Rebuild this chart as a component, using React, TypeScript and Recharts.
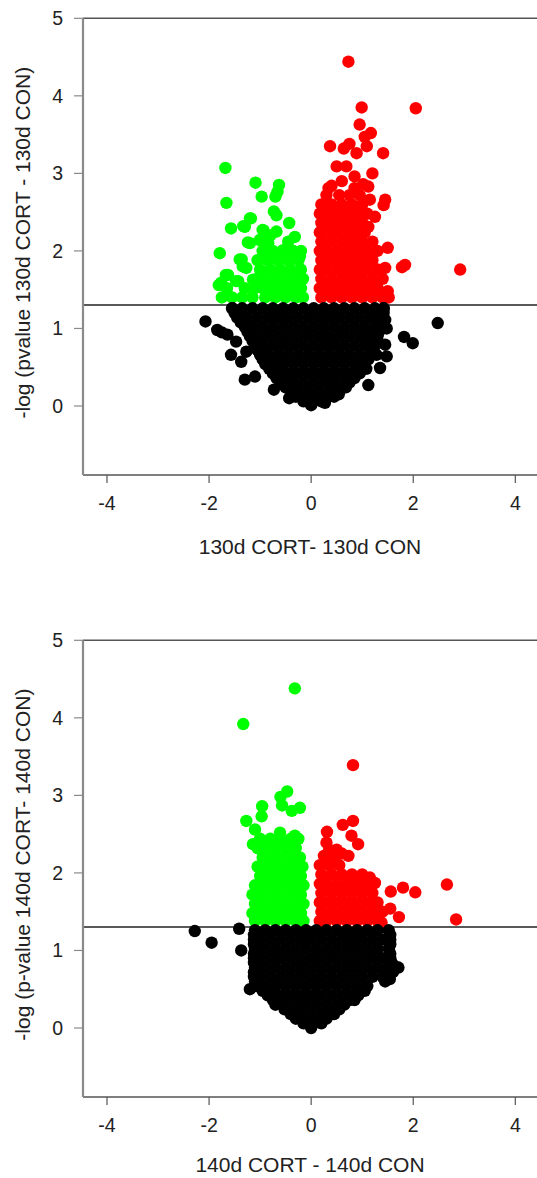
import React from "react";
import { ScatterChart, Scatter, XAxis, YAxis, ReferenceLine, Label } from "recharts";

// x tick labels and y tick labels
const xTicks = [-4, -2, 0, 2, 4];
const yTicks = [0, 1, 2, 3, 4, 5];
const threshold = 1.301; // -log10(0.05)

// ---------- Panel 1: 130d ----------
const red130: [number, number][] = [
  [0.73, 4.44], [0.99, 3.85], [2.05, 3.84], [0.95, 3.63], [1.17, 3.52], [1.05, 3.47],
  [0.37, 3.35], [0.75, 3.38], [0.64, 3.32], [0.89, 3.26], [1.09, 3.35], [1.41, 3.26],
  [0.5, 3.09], [0.69, 3.09], [1.2, 3.0], [0.34, 2.81], [0.85, 2.81], [1.12, 2.83],
  [1.45, 2.66], [1.42, 2.59], [0.27, 2.59], [1.15, 2.66], [1.25, 2.44], [1.12, 2.31],
  [1.5, 2.04], [1.78, 1.79], [1.84, 1.82], [2.92, 1.76], [1.45, 1.78], [1.5, 1.48],
  [0.4, 2.84], [0.6, 2.9], [0.85, 2.96], [1.02, 2.86],
  [0.3, 2.72], [0.55, 2.72], [0.75, 2.72], [0.95, 2.72],
  [0.2, 2.6], [0.4, 2.6], [0.6, 2.6], [0.8, 2.6], [1.0, 2.6],
  [0.17, 2.48], [0.3, 2.48], [0.5, 2.48], [0.7, 2.48], [0.9, 2.48], [1.1, 2.48],
  [0.2, 2.36], [0.4, 2.36], [0.6, 2.36], [0.8, 2.36], [1.0, 2.36],
  [0.17, 2.24], [0.3, 2.24], [0.5, 2.24], [0.7, 2.24], [0.9, 2.24], [1.05, 2.24],
  [0.2, 2.12], [0.4, 2.12], [0.6, 2.12], [0.8, 2.12], [1.0, 2.12], [1.2, 2.12],
  [0.17, 2.0], [0.3, 2.0], [0.5, 2.0], [0.7, 2.0], [0.9, 2.0], [1.1, 2.0], [1.3, 2.0],
  [0.2, 1.88], [0.4, 1.88], [0.6, 1.88], [0.8, 1.88], [1.0, 1.88], [1.2, 1.88],
  [0.17, 1.76], [0.3, 1.76], [0.5, 1.76], [0.7, 1.76], [0.9, 1.76], [1.1, 1.76], [1.3, 1.76],
  [0.2, 1.64], [0.4, 1.64], [0.6, 1.64], [0.8, 1.64], [1.0, 1.64], [1.2, 1.64], [1.4, 1.64],
  [0.17, 1.52], [0.3, 1.52], [0.5, 1.52], [0.7, 1.52], [0.9, 1.52], [1.1, 1.52], [1.3, 1.52],
  [0.2, 1.4], [0.4, 1.4], [0.6, 1.4], [0.8, 1.4], [1.0, 1.4], [1.2, 1.4], [1.4, 1.4], [1.52, 1.4],
];

const green130: [number, number][] = [
  [-1.68, 3.07], [-1.09, 2.88], [-0.63, 2.85], [-0.97, 2.7], [-0.7, 2.7], [-0.66, 2.76],
  [-1.66, 2.62], [-0.73, 2.51], [-0.68, 2.46], [-1.57, 2.29], [-1.2, 2.42], [-1.3, 2.31],
  [-0.43, 2.36], [-0.32, 2.18], [-0.95, 2.27], [-0.68, 2.25], [-1.79, 1.97], [-1.2, 2.1],
  [-1.4, 1.89], [-1.34, 1.8], [-1.67, 1.69], [-1.81, 1.56], [-1.47, 1.61], [-1.76, 1.59],
  [-1.63, 1.69], [-1.43, 1.61], [-1.27, 1.78], [-1.14, 1.63], [-1.33, 2.32], [-1.18, 2.42],
  [-0.93, 2.26], [-1.24, 2.11], [-1.01, 2.14], [-0.84, 2.1], [-0.55, 2.01], [-0.22, 1.93],
  [-1.36, 1.89], [-0.45, 2.12], [-0.8, 2.2],
  [-0.95, 2.0], [-0.75, 2.0], [-0.55, 2.0], [-0.35, 2.0], [-0.2, 2.0],
  [-1.05, 1.88], [-0.85, 1.88], [-0.65, 1.88], [-0.45, 1.88], [-0.25, 1.88],
  [-1.0, 1.76], [-0.8, 1.76], [-0.6, 1.76], [-0.4, 1.76], [-0.2, 1.76],
  [-1.05, 1.64], [-0.9, 1.64], [-0.7, 1.64], [-0.5, 1.64], [-0.3, 1.64], [-0.16, 1.64],
  [-1.65, 1.52], [-1.3, 1.52], [-1.1, 1.52], [-0.95, 1.52], [-0.8, 1.52], [-0.6, 1.52], [-0.4, 1.52], [-0.2, 1.52],
  [-1.75, 1.4], [-1.55, 1.4], [-1.35, 1.4], [-1.15, 1.4], [-0.9, 1.4], [-0.7, 1.4], [-0.5, 1.4], [-0.3, 1.4], [-0.16, 1.4],
];

const black130: [number, number][] = [
  [-1.55, 1.26], [-1.35, 1.26], [-1.15, 1.26], [-0.95, 1.26], [-0.75, 1.26], [-0.55, 1.26], [-0.35, 1.26], [-0.15, 1.26],
  [0.05, 1.26], [0.25, 1.26], [0.45, 1.26], [0.65, 1.26], [0.85, 1.26], [1.05, 1.26], [1.25, 1.26], [1.42, 1.26],
  [-1.45, 1.14], [-1.25, 1.14], [-1.05, 1.14], [-0.85, 1.14], [-0.65, 1.14], [-0.45, 1.14], [-0.25, 1.14], [-0.05, 1.14],
  [0.15, 1.14], [0.35, 1.14], [0.55, 1.14], [0.75, 1.14], [0.95, 1.14], [1.15, 1.14], [1.35, 1.14],
  [-1.3, 1.02], [-1.15, 1.02], [-0.95, 1.02], [-0.75, 1.02], [-0.55, 1.02], [-0.35, 1.02], [-0.15, 1.02], [0.05, 1.02],
  [0.25, 1.02], [0.45, 1.02], [0.65, 1.02], [0.85, 1.02], [1.05, 1.02], [1.25, 1.02], [1.38, 1.02],
  [-1.2, 0.9], [-1.05, 0.9], [-0.85, 0.9], [-0.65, 0.9], [-0.45, 0.9], [-0.25, 0.9], [-0.05, 0.9], [0.15, 0.9],
  [0.35, 0.9], [0.55, 0.9], [0.75, 0.9], [0.95, 0.9], [1.15, 0.9], [1.3, 0.9],
  [-1.1, 0.78], [-0.95, 0.78], [-0.75, 0.78], [-0.55, 0.78], [-0.35, 0.78], [-0.15, 0.78], [0.05, 0.78], [0.25, 0.78],
  [0.45, 0.78], [0.65, 0.78], [0.85, 0.78], [1.05, 0.78], [1.25, 0.78],
  [-1.0, 0.66], [-0.85, 0.66], [-0.65, 0.66], [-0.45, 0.66], [-0.25, 0.66], [-0.05, 0.66], [0.15, 0.66], [0.35, 0.66],
  [0.55, 0.66], [0.75, 0.66], [0.95, 0.66], [1.15, 0.66],
  [-0.9, 0.54], [-0.75, 0.54], [-0.55, 0.54], [-0.35, 0.54], [-0.15, 0.54], [0.05, 0.54], [0.25, 0.54], [0.45, 0.54],
  [0.65, 0.54], [0.85, 0.54], [1.05, 0.54],
  [-0.75, 0.42], [-0.65, 0.42], [-0.45, 0.42], [-0.25, 0.42], [-0.05, 0.42], [0.15, 0.42], [0.35, 0.42], [0.55, 0.42],
  [0.75, 0.42], [0.95, 0.42],
  [-0.6, 0.3], [-0.35, 0.3], [-0.15, 0.3], [0.05, 0.3], [0.25, 0.3], [0.45, 0.3], [0.65, 0.3], [0.75, 0.3],
  [-0.4, 0.18], [-0.25, 0.18], [-0.05, 0.18], [0.15, 0.18], [0.35, 0.18], [0.55, 0.18],
  [-0.15, 0.06], [0.05, 0.06], [0.2, 0.06], [0.0, 0.01],
  // edge fillers
  [-1.5, 1.2], [1.42, 1.2], [-1.38, 1.08], [1.38, 1.08], [-1.25, 0.96], [1.33, 0.96],
  [-1.15, 0.84], [1.28, 0.84], [-1.05, 0.72], [1.2, 0.72], [-0.95, 0.6], [1.12, 0.6],
  [-0.82, 0.48], [-0.6, 0.48], [0.9, 0.48], [1.08, 0.48], [-0.68, 0.36], [-0.5, 0.36], [0.7, 0.36], [0.85, 0.36],
  [-0.5, 0.24], [-0.3, 0.24], [0.5, 0.24], [0.68, 0.24], [-0.3, 0.12], [-0.1, 0.12], [0.1, 0.12], [0.3, 0.12], [0.45, 0.12],
  // outliers
  [-2.07, 1.09], [-1.54, 1.26], [1.42, 1.26], [2.48, 1.07], [1.48, 1.0], [1.82, 0.89], [1.99, 0.81],
  [-1.84, 0.98], [-1.64, 0.92], [-1.75, 0.95], [-1.47, 0.83], [-1.27, 0.7], [1.45, 0.79], [1.48, 0.64],
  [1.35, 0.49], [1.12, 0.27], [-1.57, 0.66], [-1.37, 0.57], [-1.3, 0.34], [-1.1, 0.38], [-0.73, 0.21],
  [-0.43, 0.1], [0.54, 0.15], [0.27, 0.04], [1.45, 1.11], [1.28, 0.66],
];

// ---------- Panel 2: 140d ----------
const green140: [number, number][] = [
  [-0.32, 4.38], [-1.33, 3.92], [-0.47, 3.05], [-0.6, 2.98], [-0.57, 2.87], [-0.22, 2.84],
  [-0.38, 2.8], [-0.96, 2.86], [-0.97, 2.73], [-1.27, 2.67], [-1.1, 2.56], [-0.61, 2.52],
  [-0.32, 2.48], [-1.14, 2.37],
  [-1.0, 2.44], [-0.8, 2.44], [-0.6, 2.44], [-0.4, 2.44], [-0.25, 2.44],
  [-1.05, 2.32], [-0.9, 2.32], [-0.7, 2.32], [-0.5, 2.32], [-0.3, 2.32],
  [-0.95, 2.2], [-0.8, 2.2], [-0.6, 2.2], [-0.4, 2.2], [-0.22, 2.2],
  [-1.05, 2.08], [-0.9, 2.08], [-0.7, 2.08], [-0.5, 2.08], [-0.3, 2.08], [-0.17, 2.08],
  [-1.0, 1.96], [-0.8, 1.96], [-0.6, 1.96], [-0.4, 1.96], [-0.2, 1.96],
  [-1.1, 1.84], [-0.9, 1.84], [-0.7, 1.84], [-0.5, 1.84], [-0.3, 1.84], [-0.15, 1.84],
  [-1.15, 1.72], [-1.0, 1.72], [-0.8, 1.72], [-0.6, 1.72], [-0.4, 1.72], [-0.2, 1.72],
  [-1.1, 1.6], [-0.9, 1.6], [-0.7, 1.6], [-0.5, 1.6], [-0.3, 1.6], [-0.15, 1.6],
  [-1.15, 1.48], [-1.0, 1.48], [-0.8, 1.48], [-0.6, 1.48], [-0.4, 1.48], [-0.2, 1.48],
  [-1.1, 1.38], [-0.9, 1.38], [-0.7, 1.38], [-0.5, 1.38], [-0.3, 1.38], [-0.15, 1.38],
];

const red140: [number, number][] = [
  [0.82, 3.39], [0.82, 2.67], [0.62, 2.62], [0.31, 2.53], [0.3, 2.39], [0.79, 2.48],
  [0.92, 2.37], [0.5, 2.3], [0.73, 2.22], [1.15, 1.94], [1.25, 1.87], [1.56, 1.76],
  [1.8, 1.81], [2.04, 1.75], [0.95, 1.83], [1.55, 1.54], [1.72, 1.43], [1.38, 1.36],
  [2.66, 1.85], [2.84, 1.4], [0.25, 2.22], [0.45, 2.2], [0.6, 2.25], [0.35, 2.3],
  [0.17, 2.1], [0.35, 2.1], [0.55, 2.1],
  [0.2, 1.98], [0.4, 1.98], [0.6, 1.98], [0.8, 1.98], [1.0, 1.98],
  [0.17, 1.86], [0.3, 1.86], [0.5, 1.86], [0.7, 1.86], [0.9, 1.86], [1.1, 1.86],
  [0.2, 1.74], [0.4, 1.74], [0.6, 1.74], [0.8, 1.74], [1.0, 1.74], [1.2, 1.74],
  [0.17, 1.62], [0.3, 1.62], [0.5, 1.62], [0.7, 1.62], [0.9, 1.62], [1.1, 1.62], [1.3, 1.62],
  [0.2, 1.5], [0.4, 1.5], [0.6, 1.5], [0.8, 1.5], [1.0, 1.5], [1.2, 1.5], [1.4, 1.5],
  [0.17, 1.38], [0.3, 1.38], [0.5, 1.38], [0.7, 1.38], [0.9, 1.38], [1.1, 1.38], [1.3, 1.38],
];

const black140: [number, number][] = [
  [-1.1, 1.26], [-0.9, 1.26], [-0.7, 1.26], [-0.5, 1.26], [-0.3, 1.26], [-0.1, 1.26], [0.1, 1.26], [0.3, 1.26],
  [0.5, 1.26], [0.7, 1.26], [0.9, 1.26], [1.1, 1.26], [1.3, 1.26], [1.52, 1.26],
  [-1.12, 1.14], [-1.0, 1.14], [-0.8, 1.14], [-0.6, 1.14], [-0.4, 1.14], [-0.2, 1.14], [0.0, 1.14], [0.2, 1.14],
  [0.4, 1.14], [0.6, 1.14], [0.8, 1.14], [1.0, 1.14], [1.2, 1.14], [1.4, 1.14], [1.55, 1.14],
  [-1.1, 1.02], [-0.9, 1.02], [-0.7, 1.02], [-0.5, 1.02], [-0.3, 1.02], [-0.1, 1.02], [0.1, 1.02], [0.3, 1.02],
  [0.5, 1.02], [0.7, 1.02], [0.9, 1.02], [1.1, 1.02], [1.3, 1.02], [1.52, 1.02],
  [-1.12, 0.9], [-1.0, 0.9], [-0.8, 0.9], [-0.6, 0.9], [-0.4, 0.9], [-0.2, 0.9], [0.0, 0.9], [0.2, 0.9],
  [0.4, 0.9], [0.6, 0.9], [0.8, 0.9], [1.0, 0.9], [1.2, 0.9], [1.4, 0.9], [1.55, 0.9],
  [-1.1, 0.78], [-0.9, 0.78], [-0.7, 0.78], [-0.5, 0.78], [-0.3, 0.78], [-0.1, 0.78], [0.1, 0.78], [0.3, 0.78],
  [0.5, 0.78], [0.7, 0.78], [0.9, 0.78], [1.1, 0.78], [1.3, 0.78], [1.5, 0.78], [1.68, 0.78],
  [-1.12, 0.66], [-1.0, 0.66], [-0.8, 0.66], [-0.6, 0.66], [-0.4, 0.66], [-0.2, 0.66], [0.0, 0.66], [0.2, 0.66],
  [0.4, 0.66], [0.6, 0.66], [0.8, 0.66], [1.0, 0.66], [1.2, 0.66], [1.4, 0.66], [1.52, 0.66],
  [-1.05, 0.54], [-0.9, 0.54], [-0.7, 0.54], [-0.5, 0.54], [-0.3, 0.54], [-0.1, 0.54], [0.1, 0.54], [0.3, 0.54],
  [0.5, 0.54], [0.7, 0.54], [0.9, 0.54], [1.1, 0.54],
  [-0.85, 0.42], [-0.8, 0.42], [-0.6, 0.42], [-0.4, 0.42], [-0.2, 0.42], [0.0, 0.42], [0.2, 0.42], [0.4, 0.42],
  [0.6, 0.42], [0.8, 0.42], [0.92, 0.42],
  [-0.7, 0.3], [-0.5, 0.3], [-0.3, 0.3], [-0.1, 0.3], [0.1, 0.3], [0.3, 0.3], [0.5, 0.3], [0.65, 0.3],
  [-0.4, 0.18], [-0.2, 0.18], [0.0, 0.18], [0.2, 0.18], [0.4, 0.18], [0.45, 0.18],
  [-0.15, 0.06], [0.05, 0.06], [0.2, 0.06], [0.0, 0.0],
  // edge fillers
  [-1.12, 1.2], [1.55, 1.2], [-1.12, 1.08], [1.55, 1.08], [-1.12, 0.96], [1.55, 0.96],
  [-1.12, 0.84], [1.58, 0.84], [-1.12, 0.72], [1.6, 0.72], [-1.1, 0.6], [1.45, 0.6],
  [-0.95, 0.48], [-0.8, 0.48], [0.95, 0.48], [1.05, 0.48], [-0.75, 0.36], [-0.6, 0.36], [0.75, 0.36], [0.85, 0.36],
  [-0.52, 0.24], [-0.35, 0.24], [0.45, 0.24], [0.55, 0.24], [-0.3, 0.12], [-0.1, 0.12], [0.1, 0.12], [0.3, 0.12],
  // outliers
  [-2.28, 1.25], [-1.95, 1.1], [-1.41, 1.28], [-1.37, 1.0], [-1.2, 0.5], [1.71, 0.78], [1.54, 0.63],
];

const FONT = "'Liberation Sans', Arial, sans-serif";
const toPts = (a: [number, number][]) => a.map(([x, y]) => ({ x, y }));

const Dot = (p: any) => <circle cx={p.cx} cy={p.cy} r={6.2} fill={p.fill} />;

function Panel(props: {
  top: number;
  labelOffset: number;
  green: [number, number][];
  red: [number, number][];
  black: [number, number][];
  xLabel: string;
  yLabel: string;
}) {
  const { top, labelOffset, green, red, black, xLabel, yLabel } = props;
  return (
    <div style={{ position: "absolute", left: 0, top }}>
      <ScatterChart width={537} height={600} margin={{ top: 18.3, right: 0, bottom: 0, left: 0 }}>
        <XAxis
          type="number"
          dataKey="x"
          domain={[-4.47, 4.425]}
          ticks={xTicks}
          allowDataOverflow
          height={125}
          tickSize={8}
          tickMargin={13}
          axisLine={{ stroke: "#555", strokeWidth: 1.6 }}
          tickLine={{ stroke: "#555", strokeWidth: 1.2 }}
          tick={{ fill: "#222", fontSize: 19.5, fontFamily: FONT }}
        >
          <Label
            content={(lp: any) => {
              const vb = lp.viewBox || {};
              return (
                <text
                  x={vb.x + vb.width / 2}
                  y={vb.y + labelOffset}
                  textAnchor="middle"
                  dominantBaseline="central"
                  fontSize={21}
                  fontFamily={FONT}
                  fill="#222"
                >
                  {xLabel}
                </text>
              );
            }}
          />
        </XAxis>
        <YAxis
          type="number"
          dataKey="y"
          domain={[-0.89, 5]}
          ticks={yTicks}
          allowDataOverflow
          width={83}
          tickSize={9}
          tickMargin={11}
          axisLine={{ stroke: "#8a8a8a", strokeWidth: 2.2 }}
          tickLine={{ stroke: "#8a8a8a", strokeWidth: 1.2 }}
          tick={{ fill: "#222", fontSize: 19.5, fontFamily: FONT }}
        >
          <Label
            content={(lp: any) => {
              const vb = lp.viewBox || {};
              const cx = 23;
              const cy = vb.y + vb.height / 2 - 4;
              return (
                <text
                  x={cx}
                  y={cy}
                  transform={`rotate(-90 ${cx} ${cy})`}
                  textAnchor="middle"
                  dominantBaseline="central"
                  fontSize={21}
                  fontFamily={FONT}
                  fill="#222"
                >
                  {yLabel}
                </text>
              );
            }}
          />
        </YAxis>
        <ReferenceLine y={5} stroke="#555" strokeWidth={1.6} />
        <Scatter data={toPts(green)} fill="#00ff00" shape={Dot} isAnimationActive={false} />
        <Scatter data={toPts(red)} fill="#ff0000" shape={Dot} isAnimationActive={false} />
        <Scatter data={toPts(black)} fill="#000000" shape={Dot} isAnimationActive={false} />
        <ReferenceLine y={threshold} stroke="#222" strokeWidth={1.5} />
      </ScatterChart>
    </div>
  );
}

export default function App() {
  return (
    <div
      style={{
        position: "fixed",
        left: 0,
        top: 0,
        width: 537,
        height: 1178,
        overflow: "hidden",
        background: "#fff",
      }}
    >
      <Panel
        top={0}
        labelOffset={71}
        green={green130}
        red={red130}
        black={black130}
        xLabel="130d CORT- 130d CON"
        yLabel="-log (pvalue 130d CORT - 130d CON)"
      />
      <Panel
        top={622.4}
        labelOffset={67}
        green={green140}
        red={red140}
        black={black140}
        xLabel="140d CORT - 140d CON"
        yLabel="-log (p-value 140d CORT- 140d CON)"
      />
    </div>
  );
}
